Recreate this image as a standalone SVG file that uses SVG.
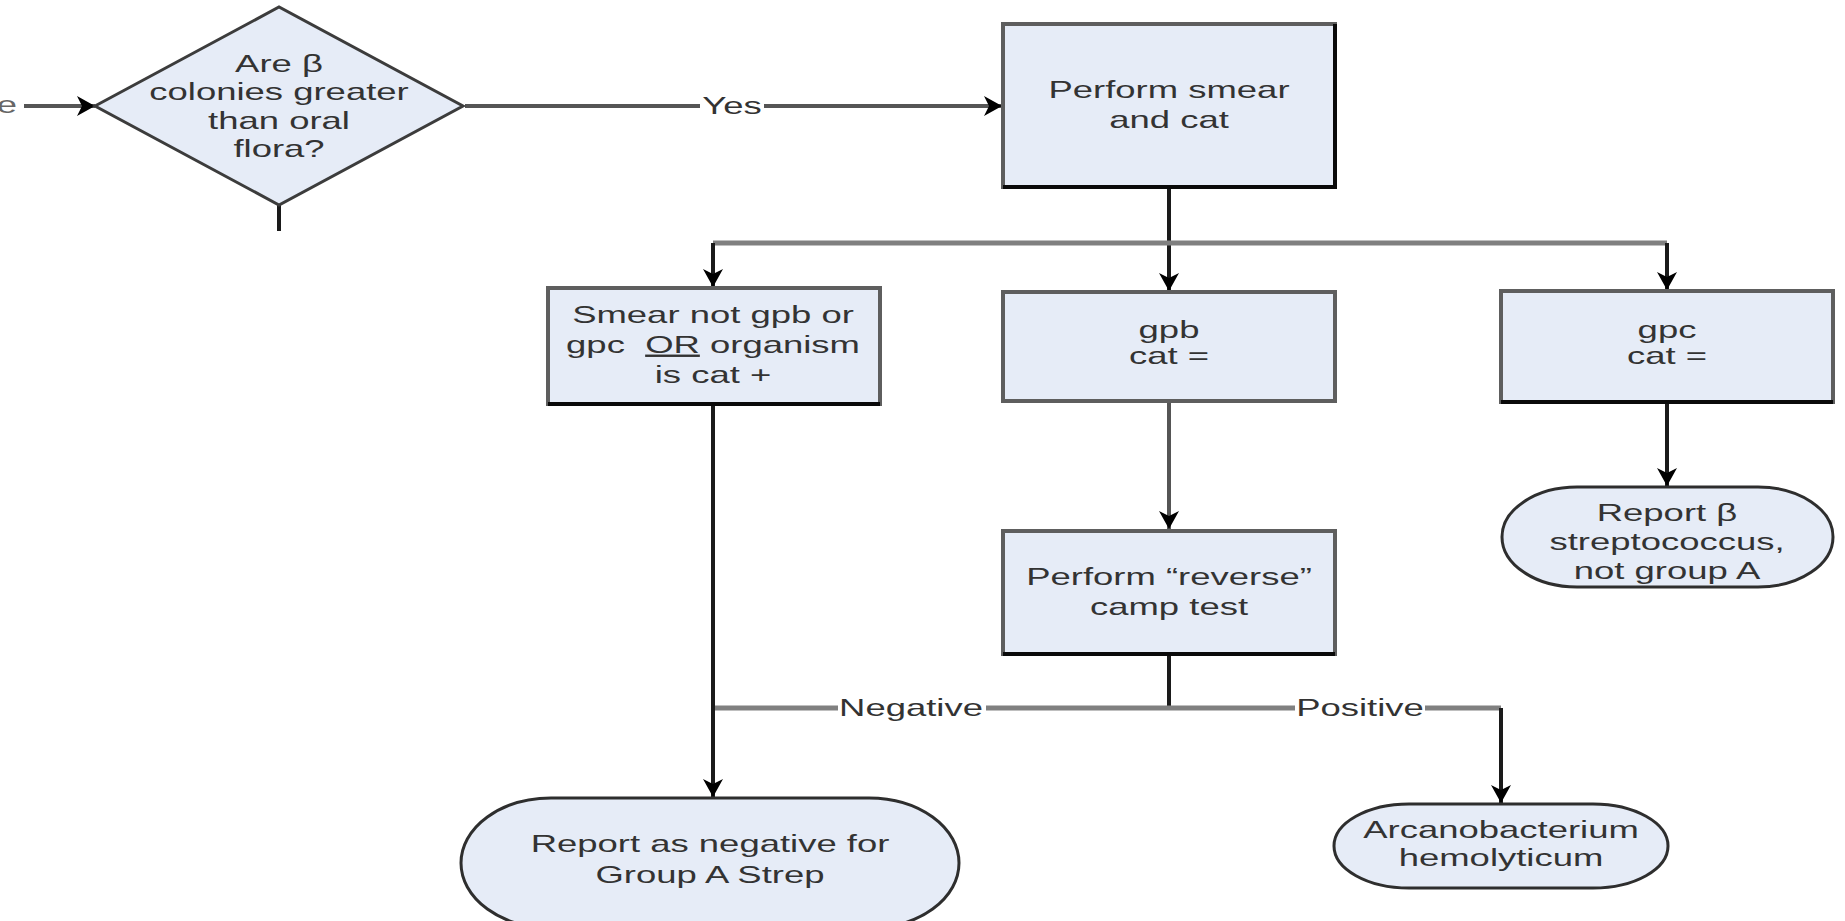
<svg xmlns="http://www.w3.org/2000/svg" width="1845" height="921" viewBox="0 0 1845 921">
<defs>
<style>
.box{fill:#E6ECF7;stroke:#5e5e5e;stroke-width:4}
.edge{fill:none;stroke:#0a0a0a;stroke-width:4}
.dia{fill:#E6ECF7;stroke:#3c3c3c;stroke-width:3}
.term{fill:#E6ECF7;stroke:#2e2e2e;stroke-width:3}
.t{font-family:"Liberation Sans",Arial,sans-serif;font-size:24px;fill:#333;text-anchor:middle}
.dark{fill:none;stroke:#1a1a1a;stroke-width:4}
.mid{fill:none;stroke:#555;stroke-width:4}
.gray{fill:none;stroke:#808080;stroke-width:5}
.lbg{fill:#fff}
</style>
<marker id="ah" viewBox="0 0 18 20" refX="18" refY="10" markerWidth="18" markerHeight="20" markerUnits="userSpaceOnUse" orient="auto">
<path d="M0,0 L18,10 L0,20 L5,10 z" fill="#000"/>
</marker>
</defs>
<rect width="1845" height="921" fill="#fff"/>

<g id="connectors">
<path class="mid" d="M24,106 L95,106" marker-end="url(#ah)"/>
<path class="mid" d="M465,106 L1002,106" marker-end="url(#ah)"/>
<path class="dark" d="M279,204 L279,231"/>
<path class="dark" d="M1169,188 L1169,291" marker-end="url(#ah)"/>
<path class="gray" d="M713,243 L1667,243"/>
<path class="dark" d="M713,243 L713,287" marker-end="url(#ah)"/>
<path class="dark" d="M1667,243 L1667,290" marker-end="url(#ah)"/>
<path class="dark" d="M1667,402 L1667,486" marker-end="url(#ah)"/>
<path class="mid" d="M1169,401 L1169,529" marker-end="url(#ah)"/>
<path class="dark" d="M1169,654 L1169,708"/>
<path class="gray" d="M713,708 L1501,708"/>
<path class="dark" d="M713,404 L713,797" marker-end="url(#ah)"/>
<path class="dark" d="M1501,708 L1501,803" marker-end="url(#ah)"/>
<rect class="lbg" x="700" y="94" width="64" height="26"/>
<text class="t" transform="translate(732 0) scale(1.52 1)" x="0" y="114">Yes</text>
<rect class="lbg" x="838" y="696" width="148" height="26"/>
<text class="t" transform="translate(911 0) scale(1.52 1)" x="0" y="716">Negative</text>
<rect class="lbg" x="1295" y="696" width="130" height="26"/>
<text class="t" transform="translate(1360 0) scale(1.52 1)" x="0" y="716">Positive</text>
<text class="t" transform="translate(17 0) scale(1.52 1)" x="0" y="113" style="text-anchor:end;fill:#666">e</text>
</g>

<g id="n-decision">
<polygon class="dia" points="95,106 279,7 463,106 279,205"/>
<text class="t" transform="translate(279 0) scale(1.52 1)"><tspan x="0" y="72">Are β</tspan><tspan x="0" y="100">colonies greater</tspan><tspan x="0" y="129">than oral</tspan><tspan x="0" y="157">flora?</tspan></text>
</g>

<g id="n-smear-cat">
<rect class="box" x="1003" y="24" width="332" height="163"/>
<path class="edge" d="M1003,187 L1335,187 L1335,24"/>
<text class="t" transform="translate(1169 0) scale(1.52 1)"><tspan x="0" y="98">Perform smear</tspan><tspan x="0" y="128">and cat</tspan></text>
</g>

<g id="n-not-gpb">
<rect class="box" x="548" y="288" width="332" height="116"/>
<path class="edge" d="M548,404 L880,404"/>
<text class="t" transform="translate(713 0) scale(1.52 1)"><tspan x="0" y="323">Smear not gpb or</tspan><tspan x="0" y="353" xml:space="preserve">gpc  <tspan text-decoration="underline">OR</tspan> organism</tspan><tspan x="0" y="383">is cat +</tspan></text>
</g>

<g id="n-gpb">
<rect class="box" x="1003" y="292" width="332" height="109"/>
<text class="t" transform="translate(1169 0) scale(1.52 1)"><tspan x="0" y="338">gpb</tspan><tspan x="0" y="364">cat =</tspan></text>
</g>

<g id="n-gpc">
<rect class="box" x="1501" y="291" width="332" height="111"/>
<path class="edge" d="M1501,402 L1833,402"/>
<text class="t" transform="translate(1667 0) scale(1.52 1)"><tspan x="0" y="338">gpc</tspan><tspan x="0" y="364">cat =</tspan></text>
</g>

<g id="n-report-beta">
<rect class="term" x="1502" y="487" width="331" height="100" rx="75" ry="50"/>
<text class="t" transform="translate(1667 0) scale(1.52 1)"><tspan x="0" y="521">Report β</tspan><tspan x="0" y="550">streptococcus,</tspan><tspan x="0" y="579">not group A</tspan></text>
</g>

<g id="n-camp">
<rect class="box" x="1003" y="531" width="332" height="123"/>
<path class="edge" d="M1003,654 L1335,654"/>
<text class="t" transform="translate(1169 0) scale(1.52 1)"><tspan x="0" y="585">Perform “reverse”</tspan><tspan x="0" y="615">camp test</tspan></text>
</g>

<g id="n-report-neg">
<rect class="term" x="461" y="798" width="498" height="130" rx="90" ry="65"/>
<text class="t" transform="translate(710 0) scale(1.52 1)"><tspan x="0" y="852">Report as negative for</tspan><tspan x="0" y="883">Group A Strep</tspan></text>
</g>

<g id="n-arcano">
<rect class="term" x="1334" y="804" width="334" height="84" rx="75" ry="42"/>
<text class="t" transform="translate(1501 0) scale(1.52 1)"><tspan x="0" y="838">Arcanobacterium</tspan><tspan x="0" y="866">hemolyticum</tspan></text>
</g>
</svg>
